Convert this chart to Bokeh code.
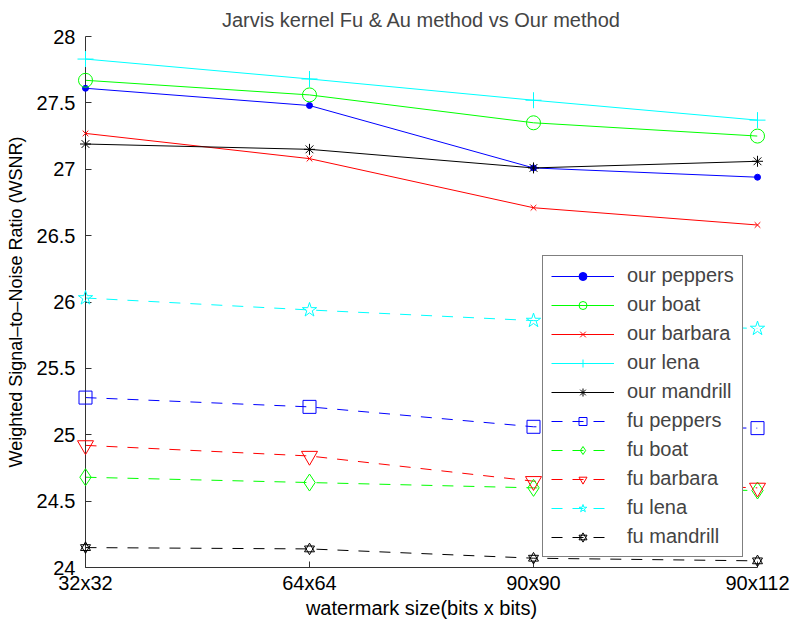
from bokeh.plotting import figure
from bokeh.models import Range1d, FixedTicker, Legend, LegendItem
from bokeh.embed import file_html
from bokeh.resources import INLINE

sizes = ["32x32", "64x64", "90x90", "90x112"]
y_ticks = [24, 24.5, 25, 25.5, 26, 26.5, 27, 27.5, 28]

our_peppers = [27.61, 27.48, 27.01, 26.94]
our_boat = [27.67, 27.56, 27.35, 27.25]
our_barbara = [27.27, 27.08, 26.71, 26.58]
our_lena = [27.83, 27.68, 27.52, 27.37]
our_mandrill = [27.19, 27.15, 27.01, 27.06]
fu_peppers = [25.28, 25.21, 25.06, 25.05]
fu_boat = [24.68, 24.64, 24.60, 24.58]
fu_barbara = [24.92, 24.84, 24.65, 24.60]
fu_lena = [26.03, 25.94, 25.86, 25.80]
fu_mandrill = [24.15, 24.14, 24.07, 24.05]

x = list(range(1, len(sizes) + 1))
FONT = "Liberation Sans"
DASH = "11 10"

p = figure(width=796, height=625, output_backend="svg", toolbar_location=None,
           x_range=Range1d(x[0], x[-1]),
           y_range=Range1d(y_ticks[0], y_ticks[-1]),
           title="Jarvis kernel Fu & Au method vs Our method",
           min_border_left=85, min_border_right=39, min_border_top=35, min_border_bottom=58)

p.title.text_font = FONT
p.title.text_font_size = "20px"
p.title.text_font_style = "normal"
p.title.align = "center"
p.title.standoff = 12
p.outline_line_color = None
p.xgrid.visible = False
p.ygrid.visible = False

p.xaxis.ticker = FixedTicker(ticks=x)
p.xaxis.major_label_overrides = {i: s for i, s in zip(x, sizes)}
p.yaxis.ticker = FixedTicker(ticks=y_ticks)
p.yaxis.major_label_overrides = {t: ("%g" % t) for t in y_ticks}
p.xaxis.axis_label = "watermark size(bits x bits)"
p.yaxis.axis_label = "Weighted Signal\u2013to\u2013Noise Ratio (WSNR)"
for ax in (p.xaxis, p.yaxis):
    ax.axis_line_color = "#333333"
    ax.major_tick_line_color = "#333333"
    ax.major_tick_in = 6
    ax.major_tick_out = 0
    ax.minor_tick_line_color = None
    ax.major_label_text_font = FONT
    ax.major_label_text_font_size = "20px"
    ax.major_label_text_color = "black"
    ax.axis_label_text_font = FONT
    ax.axis_label_text_font_style = "normal"
    ax.axis_label_text_color = "black"
p.xaxis.axis_label_text_font_size = "20px"
p.yaxis.axis_label_text_font_size = "18px"
p.yaxis.major_label_standoff = 10
p.xaxis.major_label_standoff = 4
p.yaxis.axis_label_standoff = 8
p.xaxis.axis_label_standoff = 0

series = [
    ("our peppers", our_peppers, "#0000ff", "solid", [("circle", 6, True)]),
    ("our boat", our_boat, "#00ff00", "solid", [("circle", 14, False)]),
    ("our barbara", our_barbara, "#ff0000", "solid", [("x", 8, False)]),
    ("our lena", our_lena, "#00ffff", "solid", [("cross", 16, False)]),
    ("our mandrill", our_mandrill, "black", "solid", [("asterisk", 11, False)]),
    ("fu peppers", fu_peppers, "#0000ff", DASH, [("square", 13, False)]),
    ("fu boat", fu_boat, "#00ff00", DASH, [("diamond", 17, False)]),
    ("fu barbara", fu_barbara, "#ff0000", DASH, [("inverted_triangle", 16, False)]),
    ("fu lena", fu_lena, "#00ffff", DASH, [("star", 15, False)]),
    ("fu mandrill", fu_mandrill, "black", DASH, [("triangle", 10, False), ("inverted_triangle", 10, False)]),
]

items = []
for name, vals, color, dash, markers in series:
    rs = [p.line(x, vals, line_color=color, line_width=1, line_dash=dash)]
    for m, s, filled in markers:
        rs.append(p.scatter(x, vals, marker=m, size=s, line_color=color, line_width=1,
                            fill_color=color if filled else None, level="overlay"))
    items.append(LegendItem(label=name, renderers=rs))

legend = Legend(items=items, location=(457, 10))
legend.label_text_font = FONT
legend.label_text_font_size = "20px"
legend.glyph_width = 63
legend.glyph_height = 20
legend.label_height = 20
legend.spacing = 6
legend.padding = 8
legend.margin = 0
legend.label_standoff = 13
legend.border_line_color = "black"
legend.border_line_width = 1
legend.background_fill_alpha = 1
p.add_layout(legend, "center")

open("out.html", "w").write(file_html(p, INLINE))
